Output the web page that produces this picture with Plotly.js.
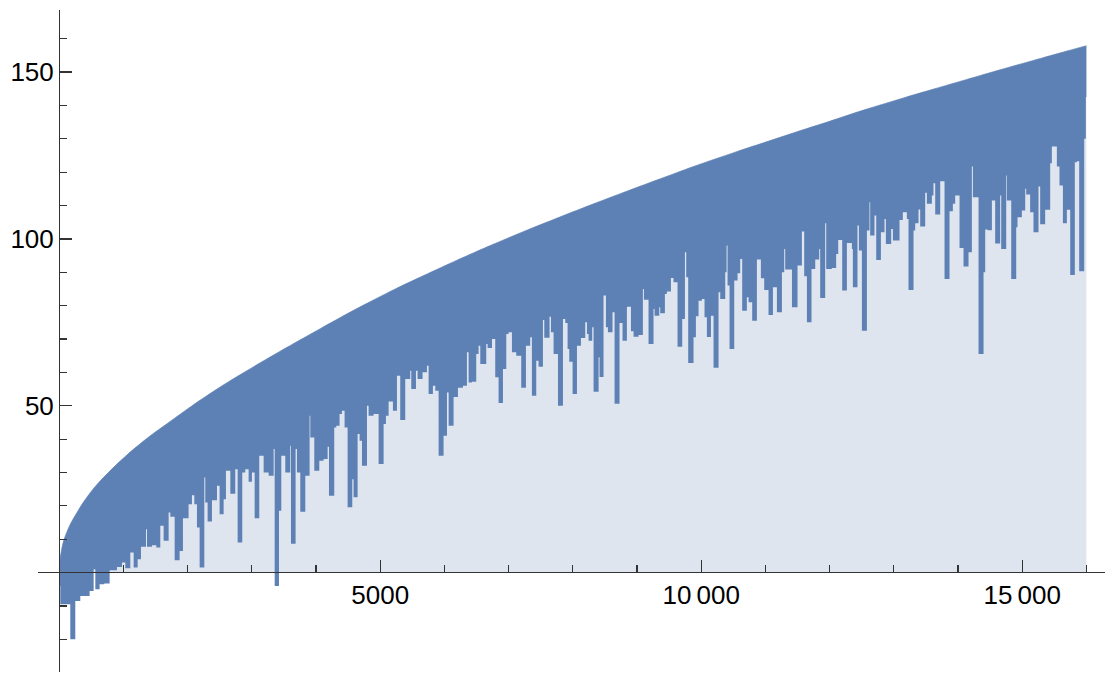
<!DOCTYPE html>
<html>
<head>
<meta charset="utf-8">
<script src="https://cdn.plot.ly/plotly-3.0.1.min.js"></script>
<style>
html,body{margin:0;padding:0;background:#fff;}
#chart{width:1115px;height:677px;}
</style>
</head>
<body>
<div id="chart"></div>
<script>
// Upper envelope of the oscillating sequence
const envX = [0, 15, 35, 67, 110, 171, 275, 379, 500, 639, 898, 1158, 1417, 1677, 1937, 2196, 2586, 3027, 3546, 4065, 4584, 5234, 5675, 6194, 6713, 7233, 7882, 8323, 8842, 9361, 9880, 10529, 10970, 11490, 12009, 12528, 13177, 13618, 14138, 14657, 15176, 15696, 16000];
const envY = [1, 4.5, 6.8, 9.5, 11.8, 14.5, 18, 21.2, 24.4, 27.5, 32.5, 37, 41, 44.6, 48.2, 51.7, 56.6, 61.7, 67.5, 73.1, 78.6, 85, 89, 93.6, 98, 102.2, 107.2, 110.5, 114.3, 118, 121.7, 126, 128.8, 132.1, 135.3, 138.6, 142.4, 144.9, 147.8, 150.7, 153.5, 156.3, 157.9];

// Lower edge of the dense band: each value holds from its x until the next x
const lowX = [
  0, 15, 171, 249, 327, 472, 535, 561, 628, 701, 784, 898, 976, 1028, 1106, 1158, 1220, 1272, 1350, 1366, 1444, 1511, 1573, 1625, 1703, 1729, 1797, 1874, 1926, 2014, 2066, 2103, 2144, 2186, 2259, 2274, 2310, 2378, 2456, 2497, 2560,
  2596, 2664, 2741, 2778, 2850, 2897, 2949, 3001, 3043, 3115, 3183, 3261, 3339, 3355, 3422, 3458, 3520, 3598, 3609, 3681, 3702, 3754, 3832, 3899, 3910, 3972, 4050, 4117, 4180, 4201, 4283, 4315, 4366, 4403, 4444, 4491, 4564, 4584, 4647, 4678, 4715, 4793, 4818, 4896, 4974, 5052, 5088, 5130, 5197,
  5260, 5311, 5389, 5467, 5483, 5556, 5581, 5659, 5727, 5753, 5820, 5857, 5909, 5986, 6039, 6065, 6142, 6210, 6288, 6350, 6376, 6428, 6495, 6532, 6558, 6651, 6672, 6740, 6791, 6843, 6911, 6963, 6999, 7051, 7118, 7196, 7269, 7336, 7362, 7430, 7466, 7534, 7555, 7637, 7659, 7700, 7768, 7846,
  7882, 7918, 7944, 7996, 8064, 8126, 8193, 8220, 8245, 8302, 8323, 8401, 8416, 8478, 8515, 8546, 8618, 8650, 8727, 8774, 8842, 8905, 8946, 9024, 9091, 9107, 9179, 9257, 9273, 9346, 9361, 9434, 9465, 9528, 9568, 9631, 9704, 9746, 9766, 9797, 9880, 9917, 9958, 10010, 10051, 10088, 10151, 10192, 10270, 10296, 10374, 10395, 10410, 10441,
  10514, 10566, 10607, 10638, 10711, 10737, 10794, 10867, 10929, 10981, 11048, 11117, 11179, 11257, 11293, 11308, 11413, 11500, 11568, 11604, 11646, 11718, 11776, 11838, 11853, 11931, 11947, 12035, 12102, 12134, 12196, 12269, 12347, 12362, 12434, 12456, 12503, 12581, 12621, 12632, 12699, 12726, 12799, 12855, 12876, 12959, 12986, 13089,
  13141, 13203, 13229, 13307, 13333, 13385, 13411, 13489, 13515, 13593, 13618, 13645, 13723, 13790, 13868, 13920, 13956, 14024, 14086, 14164, 14216, 14232, 14320, 14398, 14424, 14460, 14528, 14579, 14657, 14673, 14751, 14761, 14829, 14907, 14927, 14995, 15047, 15062, 15124, 15176, 15254, 15280, 15358, 15436, 15462, 15540, 15581, 15634, 15696, 15748, 15820, 15852, 15888, 15966, 15992
];
const lowY = [
  -4, -9.5, -20, -8.5, -7, -5.5, 1, -5, -3.5, -3.3, 0.7, 1.7, 3, 1.3, 6, 1.5, 4, 7.7, 13, 7.7, 8.2, 7.5, 14, 9.5, 18, 16.7, 3.7, 6.5, 16.3, 20.5, 23.2, 20.5, 13.5, 1.5, 28.5, 21, 15.3, 21.7, 26, 17.5, 22,
  30.5, 23.6, 31, 9, 30, 31, 27.2, 30, 16.3, 35, 30, 29, 37, -4, 18.5, 35, 30, 38, 8.6, 37, 30, 18.2, 29, 47, 40.5, 30.5, 33.5, 34, 37.7, 23, 43.5, 44, 47.5, 48.5, 43.5, 19.6, 28, 22.6, 41.5, 39.5, 32, 50, 47, 47.5, 32.5, 44.5, 47, 51.3, 48.5,
  59, 45.7, 58, 60.5, 55, 60.5, 58, 60, 62, 53.5, 56, 54.5, 35, 41, 54, 44, 52.6, 55.4, 56, 66, 57, 57.2, 65.5, 68, 62.5, 68.5, 67.3, 70, 58.5, 50.8, 61, 71.5, 72, 66, 65, 55.4, 68, 70.5, 53, 63.5, 61.7, 75.7, 70.4, 76.7, 72, 65.5, 50, 76,
  74.8, 67, 63.2, 53.5, 68, 70.3, 75, 71.5, 69.5, 73.5, 54.2, 64.5, 58.6, 83, 73.5, 72, 78, 50.6, 74.8, 69.5, 79.7, 72.3, 70.7, 71.2, 85, 81.8, 68.5, 79, 77, 79.5, 77.7, 83.5, 84.2, 88.3, 87, 67.7, 76, 96, 88.5, 62.8, 70.5, 76.8, 81.5, 82, 76.5, 70.6, 77, 61.4, 84, 82, 90, 98, 86, 67,
  87.5, 89.7, 94, 78.5, 82.5, 81, 75.5, 93.8, 88.2, 84.7, 77.2, 85.5, 78, 90, 97, 90.8, 79.5, 92, 102.2, 88.8, 75, 91, 93.8, 97, 82.3, 104.7, 91, 91.3, 95.5, 99.7, 84.5, 98.8, 97, 85.5, 104, 96.5, 72.5, 102.5, 111, 101, 107, 93.7, 102, 106, 98.5, 103, 99.5, 105.7,
  108, 106, 84.7, 102.5, 104.7, 108.8, 103.7, 113.8, 110.5, 113, 116.7, 107.3, 117.3, 88, 108.3, 110.5, 113, 97.3, 91.7, 96, 121.7, 112.5, 65.5, 90, 102.8, 102.6, 111.5, 98.6, 113, 97, 119, 111.5, 88, 103.5, 106.5, 108.5, 115, 113.3, 108, 102, 115.7, 104.4, 108.7, 122.7, 127.7, 121.7, 116, 104.7, 108.7, 89.2, 123, 123.3, 90.3, 130, 142.5
];
const lastX = 16000;

const xTickVals = [5000, 10000, 15000];
const xTickText = ['5000', '10\u2009000', '15\u2009000'];
const yTickVals = [50, 100, 150];
const yTickText = ['50', '100', '150'];

if (lowX.length !== lowY.length) console.error('length mismatch', lowX.length, lowY.length);

// Stepped lower edge, closed at the last x
const lowXs = lowX.concat([lastX]);
const lowYs = lowY.concat([lowY[lowY.length - 1]]);

const DARK = '#5e81b5';
const LIGHT = '#dfe5ef';
const AX = '#333333';
const FONT = {family: 'Liberation Sans, Arial, Helvetica, sans-serif', size: 26, color: '#000'};

const traces = [
  {x: envX, y: envY, type: 'scatter', mode: 'lines', fill: 'tozeroy', fillcolor: LIGHT,
   line: {width: 0, color: LIGHT, shape: 'spline', smoothing: 0.8}, hoverinfo: 'skip'},
  {x: lowXs, y: lowYs, type: 'scatter', mode: 'lines',
   line: {width: 0, color: DARK, shape: 'hv'}, hoverinfo: 'skip'},
  {x: envX, y: envY, type: 'scatter', mode: 'lines', fill: 'tonexty', fillcolor: DARK,
   line: {width: 0.6, color: DARK, shape: 'spline', smoothing: 0.8}, hoverinfo: 'skip'}
];

const layout = {
  width: 1115, height: 677,
  margin: {l: 38, r: 10, t: 10, b: 5, pad: 0},
  paper_bgcolor: '#fff', plot_bgcolor: '#fff',
  showlegend: false,
  xaxis: {
    range: [-332, 16290], anchor: 'free', position: 0.1518,
    showline: true, linecolor: AX, linewidth: 1.3, showgrid: false, zeroline: false,
    tickmode: 'array', tickvals: xTickVals, ticktext: xTickText,
    ticks: 'inside', ticklen: 12, tickwidth: 1.2, tickcolor: AX, tickfont: FONT,
    minor: {tickmode: 'linear', tick0: 0, dtick: 1000, ticks: 'inside', ticklen: 7, tickwidth: 1.2, tickcolor: AX, showgrid: false},
    layer: 'above traces'
  },
  yaxis: {
    range: [-29.8, 168.6], anchor: 'free', position: 0.01968,
    showline: true, linecolor: AX, linewidth: 1.3, showgrid: false, zeroline: false,
    tickmode: 'array', tickvals: yTickVals, ticktext: yTickText,
    ticks: 'inside', ticklen: 12, tickwidth: 1.2, tickcolor: AX, tickfont: FONT,
    minor: {tickmode: 'linear', tick0: 0, dtick: 10, ticks: 'inside', ticklen: 7, tickwidth: 1.2, tickcolor: AX, showgrid: false},
    layer: 'above traces'
  }
};

Plotly.newPlot('chart', traces, layout, {staticPlot: true, displayModeBar: false});
</script>
</body>
</html>
